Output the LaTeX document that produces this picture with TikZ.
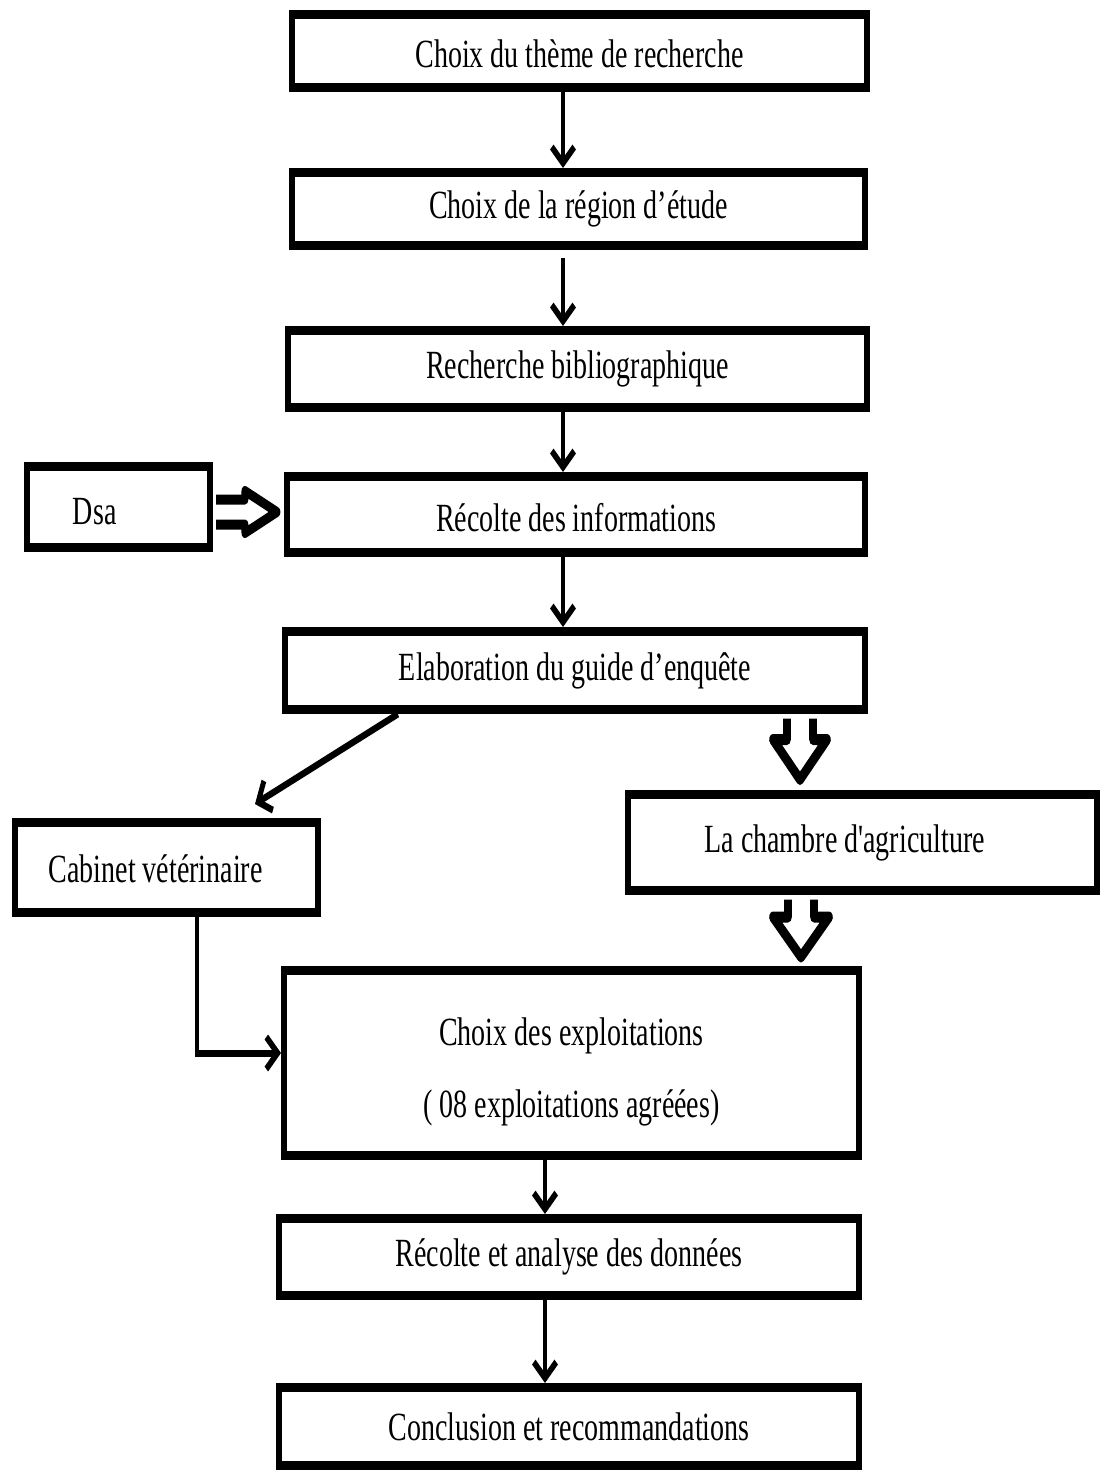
\documentclass[tikz,border=0pt]{standalone}
\usepackage{fontspec}
\setmainfont{Liberation Serif}
\usetikzlibrary{arrows.meta,calc}
\tikzset{
  box/.style 2 args={draw, line width=9pt, fill=white, rectangle, inner sep=0pt,
    minimum width={#1pt/0.7-9pt}, minimum height={#2pt-9pt},
    font=\fontsize{40pt}{48pt}\selectfont, align=center, line join=miter},
  arr/.style={line width=7pt, -{Straight Barb[length=16pt,width=32pt]}},
  hollow/.style={line width=11pt, fill=white, line join=round},
}
\newcommand\hollowdown[4]{\draw[hollow] ($(#1)+(-13,0)$) -- ($(#2)+(-13,-#3)$) -- ($(#2)+(-#4,-#3)$) -- (#2) -- ($(#2)+(#4,-#3)$) -- ($(#2)+(13,-#3)$) -- ($(#1)+(13,0)$);}
\newcommand\hollowright[2]{\draw[hollow, line width=10pt] ($(#1)+(0,-12.5)$) -- ($(#2)+(-32,-12.5)$) -- ($(#2)+(-32,-21)$) -- (#2) -- ($(#2)+(-32,21)$) -- ($(#2)+(-32,12.5)$) -- ($(#1)+(0,12.5)$);}
\begin{document}
\begin{tikzpicture}[x=1pt,y=-1pt]
\useasboundingbox[fill=white] (0,0) rectangle (1100,1470);
\begin{scope}[transform canvas={xscale=0.7}, x=1.4285714pt, y=-1pt]
\node[box={581}{82}] (A) at (579.5,51) {\rule{0pt}{34pt}Choix du thème de recherche};
\node[box={579}{82}] (B) at (578.5,209) {Choix de la région d’étude};
\node[box={585}{86}] (C) at (577.5,369) {Recherche bibliographique};
\node[box={584}{85}] (D) at (576,514.5) {\rule{0pt}{34pt}Récolte des informations};
\node[box={189}{90}] (Dsa) at (118.5,507) {\rule{0pt}{36pt}Dsa\hspace*{68pt}};
\node[box={586}{87}] (E) at (575,670.5) {Elaboration du guide d’enquête};
\node[box={309}{99}] (Cab) at (166.5,867.5) {\rule{0pt}{30pt}Cabinet vétérinaire\hspace*{31pt}};
\node[box={475}{105}] (Ch) at (862.5,842.5) {La chambre d\textquotesingle agriculture\hspace*{51pt}};
\node[box={581}{194}, font=\fontsize{40pt}{72pt}\selectfont] (F) at (571.5,1063) {\rule{0pt}{46pt}Choix des exploitations\\( 08 exploitations agréées)};
\node[box={586}{86}] (G) at (569,1257) {Récolte et analyse des données};
\node[box={586}{87}] (H) at (569,1426.5) {Conclusion et recommandations};

\coordinate (xa) at (563,0);
\coordinate (xb) at (545,0);
\coordinate (xd) at (398,0);
\coordinate (hx) at (800,0);
\coordinate (hx2) at (801,0);
\coordinate (cx) at (197,0);
\coordinate (cy) at (0,1053);

\draw[arr] (A.south -| xa) -- (B.north -| xa);
\draw[arr, shorten <=8pt] (B.south -| xa) -- (C.north -| xa);
\draw[arr] (C.south -| xa) -- (D.north -| xa);
\draw[arr] (D.south -| xa) -- (E.north -| xa);
\coordinate (dtip) at ($(Cab.north)+(88.5,-14)$);
\draw[arr] (E.south -| xd) -- (dtip);
\draw[arr, line join=miter] (Cab.south -| cx) |- (F.west |- cy);
\draw[arr] (F.south -| xb) -- (G.north -| xb);
\draw[arr] (G.south -| xb) -- (H.north -| xb);

\coordinate (h1s) at ($(E.south -| hx)+(0,4.5)$);
\coordinate (h1t) at ($(Ch.north -| hx)+(0,-10.5)$);
\hollowdown{h1s}{h1t}{40}{27}
\coordinate (h2s) at ($(Ch.south -| hx2)+(0,4.5)$);
\coordinate (h2t) at ($(F.north -| hx2)+(0,-9)$);
\hollowdown{h2s}{h2t}{40}{28}
\coordinate (h3s) at ($(Dsa.east)+(3.15,5)$);
\coordinate (h3t) at ($(D.west)+(-7,-2.5)$);
\hollowright{h3s}{h3t}
\end{scope}
\end{tikzpicture}
\end{document}
